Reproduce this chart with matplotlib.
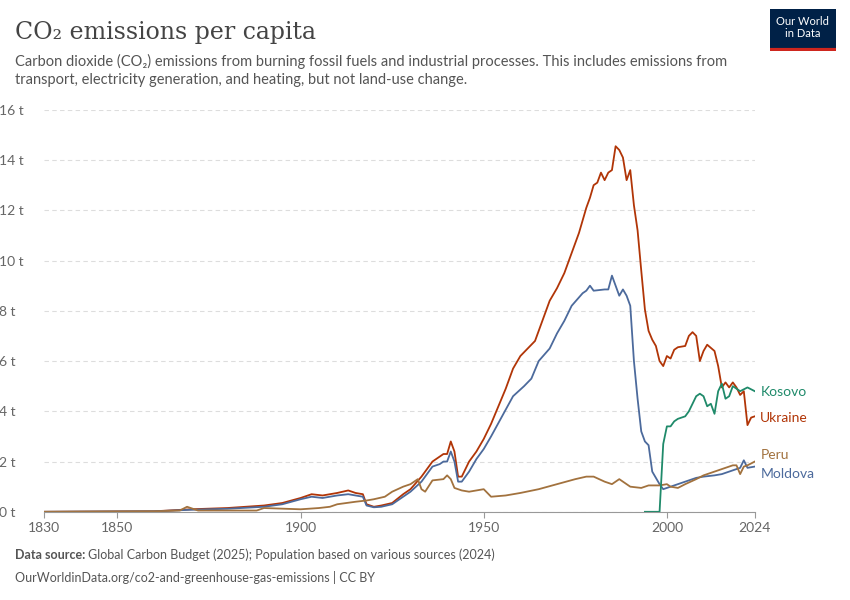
import matplotlib
matplotlib.use("Agg")
import matplotlib.pyplot as plt

plt.rcParams["font.family"] = ["Lato", "DejaVu Sans"]

ukraine_years = [1830, 1860, 1870, 1880, 1890, 1895, 1900, 1903, 1906, 1910, 1913, 1915, 1917, 1918,
                 1920, 1922, 1925, 1928, 1930, 1933, 1936, 1938, 1939, 1940, 1941, 1942, 1943, 1944,
                 1946, 1948, 1950, 1952, 1954, 1956, 1958, 1960, 1962, 1964, 1966, 1968, 1970, 1972,
                 1974, 1976, 1978, 1979, 1980, 1981, 1982, 1983, 1984, 1985, 1986, 1987, 1988, 1989,
                 1990, 1991, 1992, 1993, 1994, 1995, 1996, 1997, 1998, 1999, 2000, 2001, 2002, 2003,
                 2005, 2006, 2007, 2008, 2009, 2010, 2011, 2013, 2014, 2015, 2016, 2017, 2018, 2019,
                 2020, 2021, 2022, 2023, 2024]
ukraine = [0.0, 0.02, 0.1, 0.15, 0.25, 0.35, 0.55, 0.7, 0.65, 0.75, 0.85, 0.75, 0.7, 0.3,
           0.2, 0.25, 0.35, 0.7, 0.9, 1.4, 2.0, 2.2, 2.3, 2.3, 2.8, 2.4, 1.4, 1.4,
           2.0, 2.4, 2.9, 3.5, 4.2, 4.9, 5.7, 6.2, 6.5, 6.8, 7.6, 8.4, 8.9, 9.5,
           10.3, 11.1, 12.1, 12.5, 13.0, 13.1, 13.5, 13.2, 13.5, 13.6, 14.55, 14.4, 14.1, 13.2,
           13.6, 12.2, 11.2, 9.6, 8.05, 7.2, 6.85, 6.6, 6.0, 5.8, 6.2, 6.1, 6.45, 6.55,
           6.6, 7.0, 7.15, 7.0, 6.0, 6.4, 6.65, 6.4, 5.8, 4.95, 5.15, 4.95, 5.15, 4.95,
           4.65, 4.8, 3.45, 3.75, 3.8]

moldova_years = [1830, 1860, 1870, 1880, 1890, 1895, 1900, 1903, 1906, 1910, 1913, 1915, 1917, 1918,
                 1920, 1922, 1925, 1928, 1930, 1933, 1936, 1938, 1939, 1940, 1941, 1942, 1943, 1944,
                 1946, 1948, 1950, 1952, 1955, 1958, 1961, 1963, 1965, 1968, 1970, 1972, 1974, 1977,
                 1978, 1979, 1980, 1983, 1984, 1985, 1986, 1987, 1988, 1989, 1990, 1991, 1992, 1993,
                 1994, 1995, 1996, 1997, 1998, 1999, 2000, 2003, 2005, 2008, 2010, 2013, 2015, 2018,
                 2020, 2021, 2022, 2024]
moldova = [0.0, 0.02, 0.08, 0.12, 0.2, 0.3, 0.5, 0.6, 0.55, 0.65, 0.7, 0.65, 0.6, 0.25,
           0.18, 0.2, 0.3, 0.6, 0.8, 1.2, 1.8, 1.9, 2.0, 2.0, 2.4, 2.0, 1.2, 1.2,
           1.6, 2.1, 2.5, 3.0, 3.8, 4.6, 5.0, 5.3, 6.0, 6.5, 7.1, 7.6, 8.2, 8.7,
           8.8, 9.0, 8.8, 8.85, 8.85, 9.4, 9.0, 8.6, 8.85, 8.6, 8.2, 6.0, 4.5, 3.2,
           2.8, 2.65, 1.6, 1.35, 1.1, 0.9, 0.95, 1.1, 1.2, 1.35, 1.4, 1.45, 1.5, 1.65,
           1.75, 2.05, 1.75, 1.8]

peru_years = [1830, 1860, 1867, 1869, 1872, 1880, 1888, 1890, 1900, 1905, 1908, 1910, 1915, 1918,
              1920, 1923, 1925, 1928, 1930, 1932, 1933, 1934, 1936, 1939, 1940, 1941, 1942, 1944,
              1946, 1950, 1952, 1956, 1960, 1965, 1970, 1975, 1978, 1980, 1983, 1985, 1987, 1988,
              1990, 1993, 1995, 1998, 2000, 2001, 2003, 2005, 2008, 2010, 2012, 2014, 2016, 2018,
              2019, 2020, 2021, 2022, 2024]
peru = [0.0, 0.02, 0.05, 0.2, 0.05, 0.05, 0.05, 0.15, 0.1, 0.15, 0.2, 0.3, 0.4, 0.45,
        0.5, 0.6, 0.8, 1.0, 1.1, 1.3, 0.9, 0.8, 1.25, 1.3, 1.45, 1.3, 0.95, 0.85,
        0.8, 0.9, 0.6, 0.65, 0.75, 0.9, 1.1, 1.3, 1.4, 1.4, 1.2, 1.1, 1.3, 1.2,
        1.0, 0.95, 1.05, 1.05, 1.1, 1.0, 0.95, 1.1, 1.3, 1.45, 1.55, 1.65, 1.75, 1.85,
        1.85, 1.5, 1.8, 1.85, 2.0]

kosovo_years = [1994, 1998, 1999, 2000, 2001, 2002, 2003, 2005, 2006, 2007, 2008, 2009, 2010,
                2011, 2012, 2013, 2014, 2015, 2016, 2017, 2018, 2019, 2020, 2022, 2024]
kosovo = [0.0, 0.0, 2.7, 3.4, 3.4, 3.6, 3.7, 3.8, 4.0, 4.3, 4.6, 4.7, 4.6,
          4.2, 4.3, 3.9, 4.8, 5.1, 4.5, 4.6, 5.0, 4.9, 4.8, 4.95, 4.8]

series = [
    ("Ukraine", ukraine_years, ukraine, "#b13507"),
    ("Moldova", moldova_years, moldova, "#4c6a9c"),
    ("Peru", peru_years, peru, "#a2723e"),
    ("Kosovo", kosovo_years, kosovo, "#1f8a6a"),
]
label_y = {"Kosovo": 4.75, "Ukraine": 3.75, "Peru": 2.25, "Moldova": 1.5}

fig = plt.figure(figsize=(8.5, 6), dpi=100)
ax = fig.add_axes([0.052, 0.147, 0.836, 0.67])

for name, yrs, vals, color in series:
    ax.plot(yrs, vals, color=color, lw=1.3)
    ax.text(2025.5, label_y[name], name, color=color, fontsize=10, va="center")

ax.set_xlim(1830, 2024)
ax.set_ylim(0, 16)
ax.set_yticks(range(0, 17, 2))
ax.set_yticklabels([f"{v} t" for v in range(0, 17, 2)])
ax.set_xticks([1830, 1850, 1900, 1950, 2000, 2024])
ax.grid(axis="y", ls=(0, (4, 3)), color="#dddddd", lw=0.8)
for s in ["top", "right", "left"]:
    ax.spines[s].set_visible(False)
ax.spines["bottom"].set_color("#999999")
ax.tick_params(axis="y", length=0, labelsize=10, colors="#666666", pad=2)
ax.tick_params(axis="x", length=4, color="#999999", labelsize=10, labelcolor="#666666")
for lab in ax.get_yticklabels():
    lab.set_horizontalalignment("left")
    lab.set_x(-0.06)

fig.text(0.018, 0.945, "CO₂ emissions per capita", fontsize=17, family=["DejaVu Serif"],
         color="#444444", va="center")
fig.text(0.018, 0.883, "Carbon dioxide (CO₂) emissions from burning fossil fuels and industrial processes. This includes emissions from\n"
         "transport, electricity generation, and heating, but not land-use change.",
         fontsize=10.5, color="#555555", va="center", linespacing=1.4)
fig.text(0.018, 0.075, "Data source:", fontsize=9, color="#555555", va="center", weight="bold")
fig.text(0.103, 0.075, "Global Carbon Budget (2025); Population based on various sources (2024)",
         fontsize=9, color="#555555", va="center")
fig.text(0.018, 0.038, "OurWorldinData.org/co2-and-greenhouse-gas-emissions | CC BY",
         fontsize=9, color="#555555", va="center")

logo = fig.add_axes([0.906, 0.915, 0.077, 0.07])
logo.set_facecolor("#002147")
logo.set_xticks([]); logo.set_yticks([])
for s in logo.spines.values():
    s.set_visible(False)
logo.axhline(0.03, color="#ce261e", lw=3)
logo.text(0.5, 0.55, "Our World\nin Data", color="white", fontsize=8, ha="center", va="center",
          transform=logo.transAxes, linespacing=1.1)

fig.savefig("out.png")
